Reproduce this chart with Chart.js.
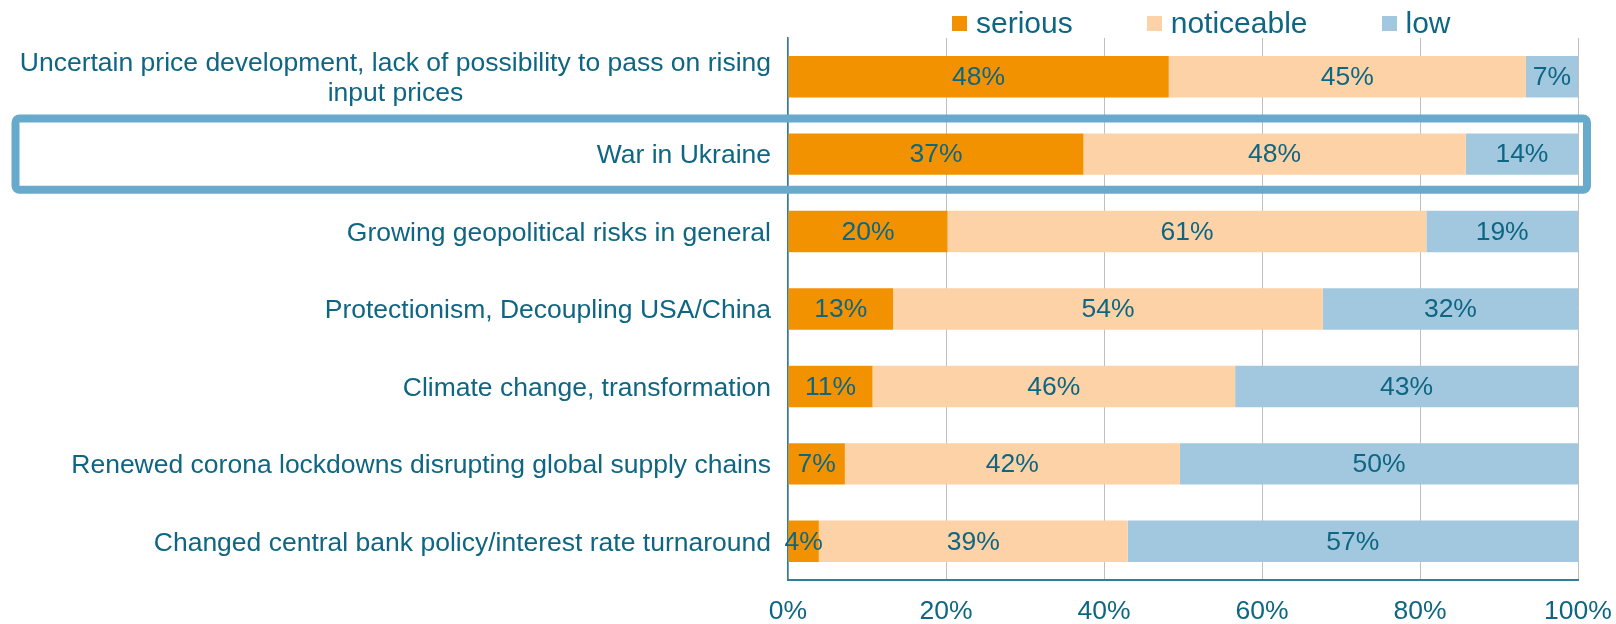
<!DOCTYPE html>
<html>
<head>
<meta charset="utf-8">
<script src="https://cdn.jsdelivr.net/npm/chart.js@4"></script>
<style>
  body { margin:0; background:#fff; }
  #wrap { position:relative; width:1616px; height:624px; }
  #legend { position:absolute; left:952px; top:7px; display:flex; align-items:center;
            font-family:"Liberation Sans", Arial, sans-serif; font-size:30px; color:#0f6682; line-height:32px; }
  #legend .item { display:flex; align-items:center; margin-right:74px; }
  #legend .box { width:15px; height:15px; margin-right:9px; }
</style>
</head>
<body>
<div id="wrap">
  <canvas id="chart" width="1616" height="624"></canvas>
  <div id="legend"></div>
</div>
<script>
// categories (top to bottom)
var categories = [
  ['Uncertain price development, lack of possibility to pass on rising', 'input prices'],
  'War in Ukraine',
  'Growing geopolitical risks in general',
  'Protectionism, Decoupling USA/China',
  'Climate change, transformation',
  'Renewed corona lockdowns disrupting global supply chains',
  'Changed central bank policy/interest rate turnaround'
];
var seriesNames = ['serious', 'noticeable', 'low'];
var serious    = [48.2, 37.4, 20.2, 13.3, 10.7, 7.2, 3.9];
var noticeable = [45.2, 48.4, 60.6, 54.4, 45.9, 42.4, 39.1];
var low        = [6.6, 14.2, 19.2, 32.3, 43.4, 50.4, 57.0];
var xTicks = [0, 20, 40, 60, 80, 100];
var highlighted = 'War in Ukraine';

var colors = ['#f39200', '#fdd2a6', '#a2c8df'];
var textColor = '#0f6682';
var fontFamily = '"Liberation Sans", Arial, sans-serif';

// legend
var lg = document.getElementById('legend');
seriesNames.forEach(function(name, i){
  var item = document.createElement('div');
  item.className = 'item';
  if(i == seriesNames.length-1) item.style.marginRight = '0';
  var box = document.createElement('span');
  box.className = 'box';
  box.style.background = colors[i];
  var txt = document.createElement('span');
  txt.textContent = name;
  item.appendChild(box);
  item.appendChild(txt);
  lg.appendChild(item);
});

// labels inside bars
var barLabels = {
  id: 'barLabels',
  afterDatasetsDraw: function(chart){
    var ctx = chart.ctx;
    ctx.save();
    ctx.font = '26.5px ' + fontFamily;
    ctx.fillStyle = textColor;
    ctx.textAlign = 'center';
    ctx.textBaseline = 'middle';
    chart.data.datasets.forEach(function(ds, i){
      chart.getDatasetMeta(i).data.forEach(function(bar, j){
        ctx.fillText(Math.round(ds.data[j]) + '%', (bar.x + bar.base)/2, bar.y + 1);
      });
    });
    ctx.restore();
  }
};

// category labels: block right aligned, lines centred in the block
var catLabels = {
  id: 'catLabels',
  afterDraw: function(chart){
    var ctx = chart.ctx, y = chart.scales.y;
    ctx.save();
    ctx.font = '26.5px ' + fontFamily;
    ctx.fillStyle = textColor;
    ctx.textAlign = 'center';
    ctx.textBaseline = 'middle';
    var right = chart.chartArea.left - 17;
    var lh = 30;
    categories.forEach(function(c, i){
      var lines = Array.isArray(c) ? c : [c];
      var w = 0;
      lines.forEach(function(l){ w = Math.max(w, ctx.measureText(l).width); });
      var cy = y.getPixelForValue(i);
      var top = cy - (lines.length - 1) * lh / 2;
      lines.forEach(function(l, k){
        ctx.fillText(l, right - w/2, top + k*lh + 2);
      });
    });
    ctx.restore();
  }
};

// frame around the highlighted row
var frame = {
  id: 'frame',
  afterDraw: function(chart){
    var idx = categories.indexOf(highlighted);
    if(idx < 0) return;
    var ctx = chart.ctx, y = chart.scales.y;
    var step = y.getPixelForValue(1) - y.getPixelForValue(0);
    var cy = y.getPixelForValue(idx);
    var top = cy - step*0.46, bottom = cy + step*0.46;
    var left = 15.5, right = chart.chartArea.right + 9;
    ctx.save();
    ctx.strokeStyle = '#67aacb';
    ctx.lineWidth = 8;
    ctx.beginPath();
    ctx.roundRect(left, top, right - left, bottom - top, 4);
    ctx.stroke();
    ctx.restore();
  }
};

var datasets = [serious, noticeable, low].map(function(d, i){
  return {
    label: seriesNames[i],
    data: d,
    backgroundColor: colors[i],
    borderWidth: 0,
    barPercentage: 0.535,
    categoryPercentage: 1
  };
});

new Chart(document.getElementById('chart'), {
  type: 'bar',
  data: {
    labels: categories.map(function(c){ return Array.isArray(c) ? c.join(' ') : c; }),
    datasets: datasets
  },
  options: {
    indexAxis: 'y',
    responsive: false,
    animation: false,
    layout: { padding: { top: 38, right: 38, left: 0, bottom: 0 } },
    plugins: { legend: { display: false }, tooltip: { enabled: false } },
    scales: {
      x: {
        stacked: true,
        min: 0, max: 100,
        afterBuildTicks: function(s){ s.ticks = xTicks.map(function(v){ return { value: v }; }); },
        afterFit: function(s){ s.height = 44; s.paddingLeft = 0; s.paddingRight = 0; },
        grid: { color: '#bfbfbf', lineWidth: 1, drawTicks: false },
        border: { color: '#2f7f99', width: 2 },
        ticks: {
          padding: 16,
          color: textColor,
          font: { family: fontFamily, size: 26.5 },
          callback: function(v){ return v + '%'; }
        }
      },
      y: {
        stacked: true,
        afterFit: function(s){ s.width = 788; },
        grid: { display: false, drawTicks: false },
        border: { color: '#2f7f99', width: 1.5 },
        ticks: { display: false }
      }
    }
  },
  plugins: [barLabels, catLabels, frame]
});
</script>
</body>
</html>
